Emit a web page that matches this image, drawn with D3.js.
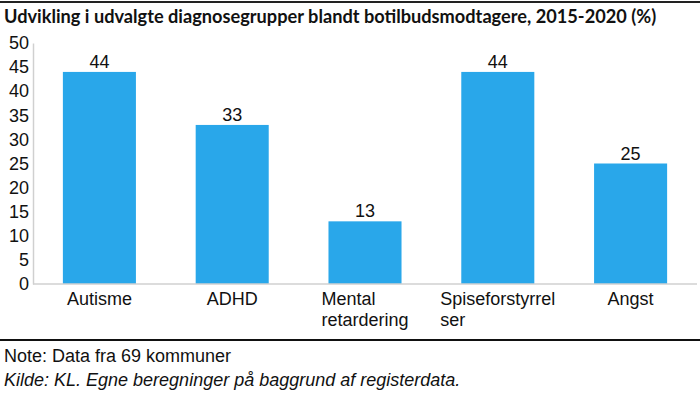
<!DOCTYPE html>
<html lang="da">
<head>
<meta charset="UTF-8">
<title>Diagnosegrupper</title>
<script src="https://d3js.org/d3.v7.min.js"></script>
<style>
body { margin: 0; background: #fff; }
svg { display: block; }
.tick line { display: none; }
</style>
</head>
<body>
<div id="chart"></div>
<script>
// data
const categories = ["Autisme", "ADHD", "Mental retardering", "Spiseforstyrrelser", "Angst"];
const categoryLines = [["Autisme"], ["ADHD"], ["Mental", "retardering"], ["Spiseforstyrrel", "ser"], ["Angst"]];
const values = [44, 33, 13, 44, 25];
const yTicks = [0, 5, 10, 15, 20, 25, 30, 35, 40, 45, 50];

const width = 700, height = 394;
const margin = {left: 33, right: 3, top: 43, bottom: 110};
const font = "Liberation Sans, Arial, sans-serif";

const svg = d3.select("#chart").append("svg")
    .attr("width", width)
    .attr("height", height);

// top rule
svg.append("line")
    .attr("x1", 0).attr("x2", width)
    .attr("y1", 2).attr("y2", 2)
    .attr("stroke", "#222").attr("stroke-width", 2);

svg.append("text")
    .attr("x", 4).attr("y", 23)
    .style("font-family", "Lato")
    .style("font-weight", "bold")
    .style("font-size", "18.2px")
    .attr("fill", "#111")
    .text("Udvikling i udvalgte diagnosegrupper blandt botilbudsmodtagere, 2015-2020 (%)");

const x = d3.scaleBand()
    .domain(categories)
    .range([margin.left, width - margin.right])
    .paddingInner(0.45)
    .paddingOuter(0.225);

const y = d3.scaleLinear()
    .domain([0, 50])
    .range([284, 43]);

// y axis
const yAxis = svg.append("g")
    .attr("transform", `translate(${margin.left},0)`)
    .call(d3.axisLeft(y).tickValues(yTicks).tickSize(0).tickPadding(4));
yAxis.select(".domain").attr("stroke", "#d0d0d0").attr("stroke-width", 1.5);
yAxis.selectAll("text")
    .style("font-family", font)
    .style("font-size", "18px")
    .attr("fill", "#111");

// bars
svg.selectAll("rect.bar")
    .data(values)
    .join("rect")
    .attr("class", "bar")
    .attr("x", (d, i) => x(categories[i]))
    .attr("y", d => y(d))
    .attr("width", x.bandwidth())
    .attr("height", d => y(0) - y(d))
    .attr("fill", "#29a7ea");

// x axis baseline
svg.append("line")
    .attr("x1", margin.left).attr("x2", width - margin.right)
    .attr("y1", y(0)).attr("y2", y(0))
    .attr("stroke", "#d0d0d0").attr("stroke-width", 1.5);

// value labels
svg.selectAll("text.val")
    .data(values)
    .join("text")
    .attr("class", "val")
    .attr("x", (d, i) => x(categories[i]) + x.bandwidth() / 2)
    .attr("y", d => y(d) - 4)
    .attr("text-anchor", "middle")
    .style("font-family", font)
    .style("font-size", "18px")
    .attr("fill", "#111")
    .text(d => d);

// category labels: lines left aligned, block centred on bar
const labelG = svg.append("g");
categoryLines.forEach((lines, i) => {
    const t = labelG.append("text")
        .style("font-family", font)
        .style("font-size", "18px")
        .attr("fill", "#111");
    lines.forEach((l, j) => {
        t.append("tspan").attr("x", 0).attr("y", 305 + j * 21).text(l);
    });
    const w = t.node().getBBox().width;
    const cx = x(categories[i]) + x.bandwidth() / 2;
    t.attr("transform", `translate(${cx - w / 2},0)`);
});

// bottom rule
svg.append("line")
    .attr("x1", 0).attr("x2", width)
    .attr("y1", 340).attr("y2", 340)
    .attr("stroke", "#111").attr("stroke-width", 2);

svg.append("text")
    .attr("x", 4).attr("y", 362)
    .style("font-family", font)
    .style("font-size", "18px")
    .attr("fill", "#111")
    .text("Note: Data fra 69 kommuner");

svg.append("text")
    .attr("x", 4).attr("y", 386)
    .style("font-family", font)
    .style("font-size", "18px")
    .style("font-style", "italic")
    .attr("fill", "#111")
    .text("Kilde: KL. Egne beregninger på baggrund af registerdata.");
</script>
</body>
</html>
